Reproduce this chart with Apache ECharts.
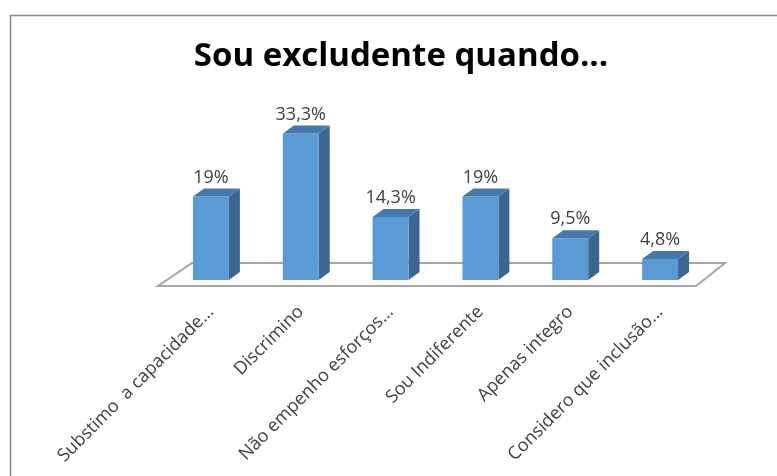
<!DOCTYPE html>
<html>
<head>
<meta charset="utf-8">
<script src="https://cdn.jsdelivr.net/npm/echarts@6/dist/echarts.min.js"></script>
<style>
  html, body { margin: 0; padding: 0; background: #fff; }
  #chart { width: 777px; height: 476px; }
</style>
</head>
<body>
<div id="chart"></div>
<script>
// chart data
const categories = [
    'Substimo  a capacidade...',
    'Discrimino',
    'Não empenho esforços...',
    'Sou Indiferente',
    'Apenas integro',
    'Considero que inclusão...'
]
const percentages = [19, 33.3, 14.3, 19, 9.5, 4.8]
const titleText = 'Sou excludente quando...'

const DEPTH_X = 11
const DEPTH_Y = 8

const fmtPct = v => String(v).replace('.', ',') + '%'

const chart = echarts.init(document.getElementById('chart'))

// floor plane under the bars, built from the grid rect
const renderFloor = (params, api) => {
    const cs = params.coordSys
    const base = api.coord([0, 0])[1]
    const front = base + 6
    const back = base - 17
    const left = cs.x
    const right = cs.x + cs.width
    return {
        type: 'polygon',
        shape: {
            points: [
                [left - 8, front],
                [right - 9, front],
                [right + 20, back],
                [left + 26, back]
            ]
        },
        style: { fill: '#ffffff', stroke: '#a6a6a6', lineWidth: 2 }
    }
}

// 3d-looking column: front face, side and top
const renderBar = (params, api) => {
    const idx = api.value(0)
    const val = api.value(1)
    const base = api.coord([idx, 0])
    const top = api.coord([idx, val])
    const bw = api.size([1, 0])[0] * 0.4
    const l = base[0] - bw / 2
    const r = base[0] + bw / 2
    const t = top[1]
    const b = base[1]
    return {
        type: 'group',
        children: [
            {
                type: 'polygon',
                shape: { points: [[r, t], [r + DEPTH_X, t - DEPTH_Y], [r + DEPTH_X, b - DEPTH_Y], [r, b]] },
                style: { fill: '#3a6691' }
            },
            {
                type: 'rect',
                shape: { x: l, y: t, width: bw, height: b - t },
                style: { fill: '#5b9bd5' }
            },
            {
                type: 'polygon',
                shape: { points: [[l, t], [l + DEPTH_X, t - DEPTH_Y], [r + DEPTH_X, t - DEPTH_Y], [r, t]] },
                style: { fill: '#4678ad' }
            },
            {
                type: 'text',
                x: base[0],
                y: t - DEPTH_Y - 2,
                style: {
                    text: fmtPct(val),
                    fill: '#404040',
                    font: '18px "Open Sans"',
                    align: 'center',
                    verticalAlign: 'bottom'
                }
            }
        ]
    }
}

chart.setOption({
    animation: false,
    graphic: [
        {
            type: 'rect',
            left: 8, top: 13,
            shape: { width: 800, height: 500 },
            style: { fill: 'none', stroke: '#898989', lineWidth: 1.5 }
        },
        {
            type: 'text',
            x: 401, y: 57,
            style: {
                text: titleText,
                fill: '#000',
                font: 'bold 33px "Open Sans"',
                align: 'center',
                verticalAlign: 'middle'
            }
        }
    ],
    grid: { left: 166, width: 539, top: 126, bottom: 196 },
    xAxis: {
        type: 'category',
        data: categories,
        axisLine: { show: false },
        axisTick: { show: false },
        axisLabel: {
            rotate: 45,
            margin: 29,
            interval: 0,
            color: '#404040',
            fontSize: 18,
            fontFamily: 'Open Sans'
        }
    },
    yAxis: { type: 'value', min: 0, max: 35, show: false },
    series: [
        {
            type: 'custom',
            renderItem: renderFloor,
            data: [[0, 0]],
            z: 1,
            silent: true
        },
        {
            type: 'custom',
            renderItem: renderBar,
            data: percentages.map((v, i) => [i, v]),
            z: 2
        }
    ]
})
</script>
</body>
</html>
